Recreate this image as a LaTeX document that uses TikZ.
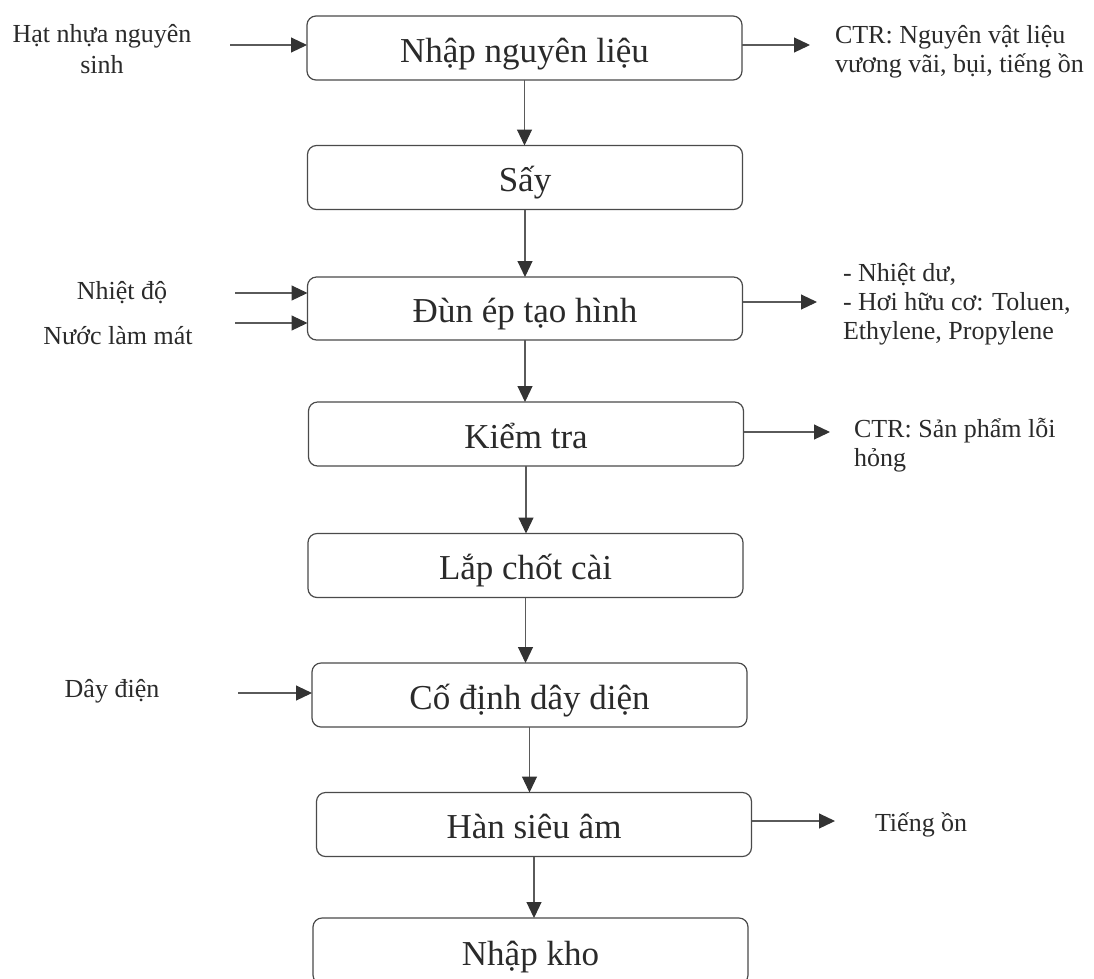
\documentclass[tikz,border=0pt]{standalone}
\usepackage{fontspec}
\setmainfont{Liberation Serif}
\usetikzlibrary{arrows.meta}
\definecolor{ln}{HTML}{5A5A5A}
\definecolor{bd}{HTML}{4A4A4A}
\definecolor{tx}{HTML}{2A2A2A}
\definecolor{hd}{HTML}{333333}
\tikzset{
  stepbox/.style={draw=bd, line width=1.2pt, rounded corners=9pt, rectangle,
    inner sep=0pt, outer sep=0pt, minimum width=435pt, minimum height=64pt,
    text height=32pt, text depth=4pt,
    font=\fontsize{35}{40}\selectfont, text=tx},
  sidetxt/.style={inner sep=0pt, outer sep=0pt, text=tx, align=center,
    font=\fontsize{26}{31}\selectfont},
  outtxt/.style={inner sep=0pt, outer sep=0pt, text=tx, align=left, anchor=west,
    font=\fontsize{26}{29}\selectfont},
  arr/.style={draw=ln, line width=1.1pt,
    -{Triangle[length=16pt,width=15pt,fill=hd,color=hd]}},
}
\begin{document}
\begin{tikzpicture}[x=1pt,y=-1pt]
\useasboundingbox (0,0) rectangle (1094,978);
\clip (0,0) rectangle (1094,978);
% process boxes
\node[stepbox] (b1) at (524.5,48) {Nhập nguyên liệu};
\node[stepbox] (b2) at (525,177.5) {Sấy};
\node[stepbox, minimum height=63pt] (b3) at (525,308.5) {Đùn ép tạo hình};
\node[stepbox] (b4) at (526,434) {Kiểm tra};
\node[stepbox] (b5) at (525.5,565.5) {Lắp chốt cài};
\node[stepbox] (b6) at (529.5,695) {Cố định dây diện};
\node[stepbox] (b7) at (534,824.5) {Hàn siêu âm};
\node[stepbox, minimum height=66pt] (b8) at (530.5,951) {Nhập kho};
% main flow
\draw[arr] (b1.south) -- (b1.south |- b2.north);
\draw[arr] (b2.south) -- (b2.south |- b3.north);
\draw[arr] (b3.south) -- (b3.south |- b4.north);
\draw[arr] (b4.south) -- (b4.south |- b5.north);
\draw[arr] (b5.south) -- (b5.south |- b6.north);
\draw[arr] (b6.south) -- (b6.south |- b7.north);
\draw[arr] (b7.south) -- (b7.south |- b8.north);
% inputs
\node[sidetxt] (i1) at (102,49) {Hạt nhựa nguyên\\sinh};
\node[sidetxt] (i3a) at (122,293) {Nhiệt độ};
\node[sidetxt] (i3b) at (118,336) {Nước làm mát};
\node[sidetxt] (i6) at (112,691) {Dây điện};
\coordinate (c1) at (230,45);
\coordinate (c3a) at (235,293);
\coordinate (c3b) at (235,323);
\coordinate (c6) at (238,693);
\draw[arr] (c1) -- (c1 -| b1.west);
\draw[arr] (c3a) -- (c3a -| b3.west);
\draw[arr] (c3b) -- (c3b -| b3.west);
\draw[arr] (c6) -- (c6 -| b6.west);
% outputs
\coordinate (o1) at (810,45);
\coordinate (o3) at (817,302);
\coordinate (o4) at (830,432);
\coordinate (o7) at (835,821);
\draw[arr] (b1.east |- o1) -- (o1);
\draw[arr] (b3.east |- o3) -- (o3);
\draw[arr] (b4.east |- o4) -- (o4);
\draw[arr] (b7.east |- o7) -- (o7);
\node[outtxt] (t1) at (835,52) {CTR: Nguyên vật liệu\\vương vãi, bụi, tiếng ồn};
\node[outtxt] (t3) at (843,304) {- Nhiệt dư,\\- Hơi hữu cơ: Toluen,\\Ethylene, Propylene};
\node[outtxt] (t4) at (854,445) {CTR: Sản phẩm lỗi\\hỏng};
\node[outtxt] (t7) at (875,825) {Tiếng ồn};
\end{tikzpicture}
\end{document}
